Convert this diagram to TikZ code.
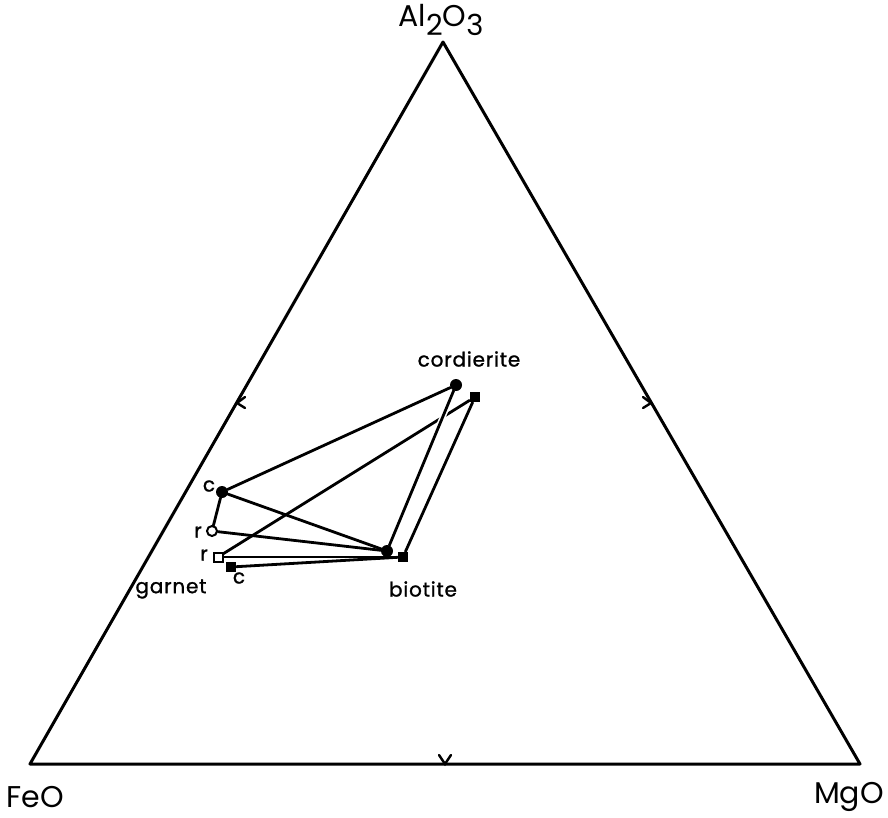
\documentclass[tikz,border=0pt]{standalone}
\usepackage{fontspec}
\setmainfont{Poppins}
\usetikzlibrary{calc}
\begin{document}
\begin{tikzpicture}[x=1pt,y=-1pt,
  side/.style={line width=3pt, line cap=round, line join=round},
  edge/.style={line width=2.8pt, line cap=round, line join=round},
  tick/.style={line width=2.4pt, line cap=round, line join=miter},
  fdot/.style={circle, fill=black, inner sep=0pt, minimum size=12pt},
  odot/.style={circle, draw=black, fill=white, line width=2pt, inner sep=0pt, minimum size=10pt},
  fsq/.style={rectangle, fill=black, inner sep=0pt, minimum size=10.5pt},
  osq/.style={rectangle, draw=black, fill=white, line width=2pt, inner sep=0pt, minimum size=9pt},
  lab/.style={font=\fontsize{20}{20}\selectfont\addfontfeatures{LetterSpace=4,FakeBold=1.2}, inner sep=0pt},
  big/.style={font=\fontsize{30}{30}\selectfont, inner sep=0pt}]
\useasboundingbox (0,0) rectangle (888,817);
% triangle
\coordinate (A) at (443,42);
\coordinate (F) at (30,764);
\coordinate (M) at (860,764);
\draw[side] (F) -- (A) -- (M) -- cycle;
% midpoint ticks
\coordinate (tl) at (237,403);
\coordinate (tr) at (651,403);
\coordinate (tb) at (445,764);
\draw[tick] ($(tl)+(8,-6)$) -- (tl) -- ($(tl)+(8,5)$);
\draw[tick] ($(tr)+(-8,-6)$) -- (tr) -- ($(tr)+(-8,5)$);
\draw[tick] ($(tb)+(-6,-9)$) -- (tb) -- ($(tb)+(6,-9)$);
% corner labels
\node[big] (al) at (441,20) {Al\raisebox{-0.32em}{\fontsize{29}{29}\selectfont 2}O\raisebox{-0.32em}{\fontsize{29}{29}\selectfont 3}};
\node[big] (feo) at (35,797) {FeO};
\node[big] (mgo) at (849,797) {MgO};
% markers
\node[fdot] (cc) at (456,385) {};
\node[fsq]  (cs) at (475,397) {};
\node[fdot] (bc) at (387,551) {};
\node[fsq]  (bs) at (403,557) {};
\node[fdot] (gc) at (222,492) {};
\node[odot] (gr) at (212,531) {};
\node[osq]  (sr) at (218,557) {};
\node[fsq]  (sc) at (231,567) {};
% tie lines
\draw[edge] (gc) -- (cc);
\draw[edge] (gc) -- (bc);
\draw[edge] (gc) -- (gr);
\draw[edge] (gr) -- (bc);
\draw[edge] (sr) -- (cs);
\draw[edge] (sr) -- (bs);
\draw[edge] (sc) -- (bs);
\draw[edge] (bs) -- (cs);
\draw[white, line width=6pt] ($(cc)!0.15!(bc)$) -- ($(cc)!0.27!(bc)$);
\draw[edge] (cc) -- (bc);
% labels
\node[lab] (lcord) at (469,359) {cordierite};
\node[lab] (lbio) at (423,589) {biotite};
\node[lab] (lgar) at (171,589) {garnet};
\node[lab] (l1) at (209,486) {c};
\node[lab] (l2) at (198,532) {r};
\node[lab] (l3) at (204,555) {r};
\node[lab] (l4) at (239,578) {c};
\end{tikzpicture}
\end{document}
